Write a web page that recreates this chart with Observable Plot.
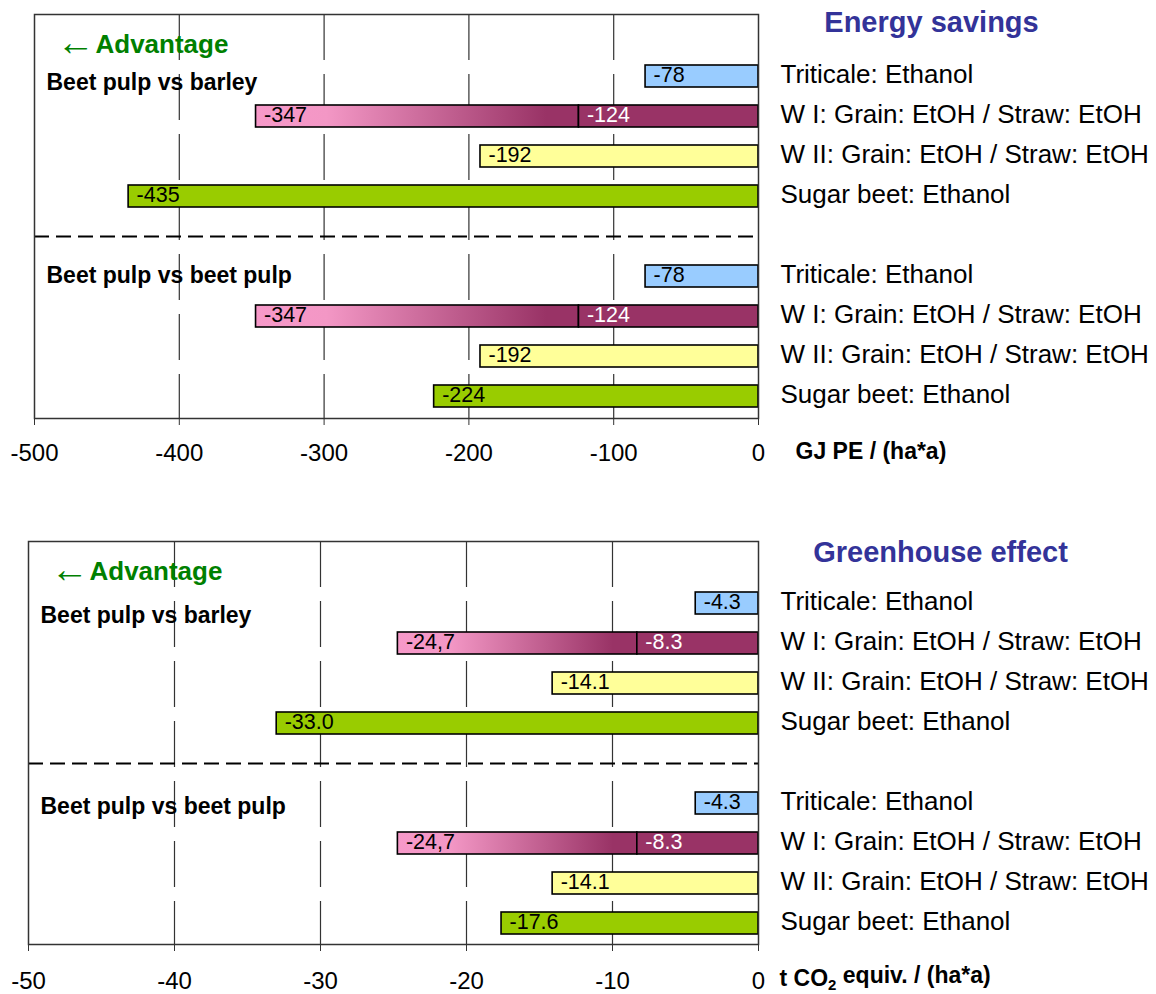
<!DOCTYPE html>
<html>
<head>
<meta charset="utf-8">
<script src="https://cdn.jsdelivr.net/npm/d3@7"></script>
<script src="https://cdn.jsdelivr.net/npm/@observablehq/plot@0.6"></script>
<style>
  html, body { margin: 0; padding: 0; background: #fff; }
  #chart { width: 1156px; }
  #chart svg { display: block; }
</style>
</head>
<body>
<div id="chart"></div>
<script>
// ---------- data ----------
const categories = [
  "Triticale: Ethanol",
  "W I: Grain: EtOH / Straw: EtOH",
  "W II: Grain: EtOH / Straw: EtOH",
  "Sugar beet: Ethanol"
];
const comparisons = ["Beet pulp vs barley", "Beet pulp vs beet pulp"];

// Energy savings, GJ PE / (ha*a)  (W I value = total of grain + straw)
const energyVsBarley   = [-78, -347, -192, -435];
const energyVsBeetPulp = [-78, -347, -192, -224];
const energyWIGrain    = -124;
const energyTicks      = [-500, -400, -300, -200, -100, 0];

// Greenhouse effect, t CO2 equiv. / (ha*a)
const ghgVsBarley   = [-4.3, -24.7, -14.1, -33.0];
const ghgVsBeetPulp = [-4.3, -24.7, -14.1, -17.6];
const ghgWIGrain    = -8.3;
const ghgTicks      = [-50, -40, -30, -20, -10, 0];

const titles = ["Energy savings", "Greenhouse effect"];
const units  = ["GJ PE / (ha*a)", "t CO2 equiv. / (ha*a)"];
const advantageText = "Advantage";

// ---------- styling ----------
const FONT = "'Liberation Sans', Arial, Helvetica, sans-serif";
const partNames = ["tri", "wiStraw", "wiGrain", "wii", "sugar"];

function panel(cfg) {
  const groupKeys = comparisons.map((c, g) => categories.map(cat => g + "|" + cat));
  const domain = ["head", ...groupKeys[0], "sep", ...groupKeys[1]];
  const bars = [], labels = [];
  cfg.totals.forEach((totals, g) => {
    categories.forEach((cat, i) => {
      const key = groupKeys[g][i];
      if (i === 1) {
        bars.push({key, part: "wiStraw", x1: totals[i], x2: cfg.wiGrain});
        bars.push({key, part: "wiGrain", x1: cfg.wiGrain, x2: 0});
        labels.push({key, x: totals[i], text: cfg.wiTotalFmt(totals[i]), white: false});
        labels.push({key, x: cfg.wiGrain, text: cfg.fmt(cfg.wiGrain), white: true});
      } else {
        bars.push({key, part: partNames[i === 0 ? 0 : i + 1], x1: totals[i], x2: 0});
        labels.push({key, x: totals[i], text: cfg.fmt(totals[i]), white: false});
      }
    });
  });
  const ticks = cfg.ticks;
  const xmin = d3.min(ticks), xmax = d3.max(ticks);

  const svg = Plot.plot({
    width: 1156,
    height: cfg.height,
    marginLeft: cfg.marginLeft,
    marginRight: 398,
    marginTop: cfg.marginTop,
    marginBottom: cfg.marginBottom,
    style: {fontFamily: FONT, color: "black", background: "white", overflow: "visible"},
    x: {domain: [xmin, xmax]},
    y: {type: "band", domain, paddingInner: 0.455, paddingOuter: 0.2275},
    color: {type: "ordinal", domain: partNames,
            range: ["#99CCFF", `url(#${cfg.gradId})`, "#993366", "#FFFF99", "#99CC00"]},
    marks: [
      Plot.ruleX(ticks.filter(t => t !== xmin && t !== xmax), {stroke: "#333", strokeWidth: 1.2, strokeDasharray: "46,14"}),
      Plot.ruleY(["sep"], {stroke: "black", strokeWidth: 2, strokeDasharray: "15,7"}),
      Plot.barX(bars, {y: "key", x1: "x1", x2: "x2", fill: "part", stroke: "black", strokeWidth: 1.6}),
      Plot.text(labels.filter(d => !d.white), {y: "key", x: "x", text: "text", dx: 8, dy: -1, textAnchor: "start", fontSize: 21.5, fill: "black"}),
      Plot.text(labels.filter(d => d.white), {y: "key", x: "x", text: "text", dx: 8, dy: -1, textAnchor: "start", fontSize: 21.5, fill: "white"}),
      // "← Advantage"
      Plot.text(["head"], {y: d => d, text: () => "←", frameAnchor: "left", dx: 22, dy: 6, textAnchor: "start", fontSize: 38, fill: "#008000"}),
      Plot.text(["head"], {y: d => d, text: () => advantageText, frameAnchor: "left", dx: 61, dy: 8, textAnchor: "start", fontSize: 26, fontWeight: "bold", fill: "#008000"}),
      // group headings
      Plot.text([comparisons[0]], {y: () => groupKeys[0][0], text: d => d, frameAnchor: "left", dx: 12, dy: cfg.headingDy[0], textAnchor: "start", fontSize: 23, fontWeight: "bold"}),
      Plot.text([comparisons[1]], {y: () => groupKeys[1][0], text: d => d, frameAnchor: "left", dx: 12, dy: cfg.headingDy[1], textAnchor: "start", fontSize: 23, fontWeight: "bold"}),
      // panel title and unit
      Plot.text([cfg.title], {text: d => d, frameAnchor: "top-right", dx: cfg.titleDx, dy: cfg.titleDy, textAnchor: "middle", lineAnchor: "middle", fontSize: 29, fontWeight: "bold", fill: "#333399"}),
      Plot.text([cfg.unit], {text: d => d, frameAnchor: "bottom-right", dx: cfg.unitDx, dy: cfg.unitDy, textAnchor: "start", lineAnchor: "middle", fontSize: 23, fontWeight: "bold", fill: "black"}),
      Plot.frame({stroke: "#333", strokeWidth: 1.5}),
      Plot.axisX({ticks, tickSize: 7, tickPadding: cfg.tickPadding, fontSize: 24, tickFormat: d => String(d), label: null, stroke: "#333"}),
      Plot.axisY({anchor: "right", tickSize: 0, tickPadding: 22, dy: -2, fontSize: 26, label: null,
                  tickFormat: d => d.includes("|") ? d.split("|")[1] : ""})
    ]
  });

  // gradient for the W I straw segment
  d3.select(svg).insert("defs", ":first-child").html(
    `<linearGradient id="${cfg.gradId}" x1="0" x2="1" y1="0" y2="0">
       <stop offset="0" stop-color="#F799C9"/>
       <stop offset="0.22" stop-color="#F397C5"/>
       <stop offset="0.9" stop-color="#993366"/>
       <stop offset="1" stop-color="#993366"/>
     </linearGradient>`);

  // subscript in CO2
  d3.select(svg).selectAll("text").each(function() {
    if (this.textContent === "t CO2 equiv. / (ha*a)" && this.children.length === 0) {
      const t = d3.select(this);
      t.text(null);
      t.append("tspan").text("t CO");
      t.append("tspan").attr("font-size", 15).attr("dy", "0.3em").text("2");
      t.append("tspan").attr("dy", "-0.3em").text(" equiv. / (ha*a)");
    }
  });
  return svg;
}

const chart = document.getElementById("chart");
chart.appendChild(panel({
  totals: [energyVsBarley, energyVsBeetPulp], wiGrain: energyWIGrain, ticks: energyTicks,
  fmt: d => String(d), wiTotalFmt: d => String(d),
  title: titles[0], unit: units[0], gradId: "gradEnergy",
  height: 490, marginLeft: 34, marginTop: 14, marginBottom: 72,
  titleDx: 173, titleDy: 8, unitDx: 37, unitDy: 33, headingDy: [6, -1], tickPadding: 18
}));
chart.appendChild(panel({
  totals: [ghgVsBarley, ghgVsBeetPulp], wiGrain: ghgWIGrain, ticks: ghgTicks,
  fmt: d => d.toFixed(1), wiTotalFmt: d => d.toFixed(1).replace(".", ","),
  title: titles[1], unit: units[1], gradId: "gradGhg",
  height: 504, marginLeft: 28, marginTop: 51, marginBottom: 50,
  titleDx: 182, titleDy: 11, unitDx: 21, unitDy: 34, headingDy: [12, 3], tickPadding: 20
}));
</script>
</body>
</html>
